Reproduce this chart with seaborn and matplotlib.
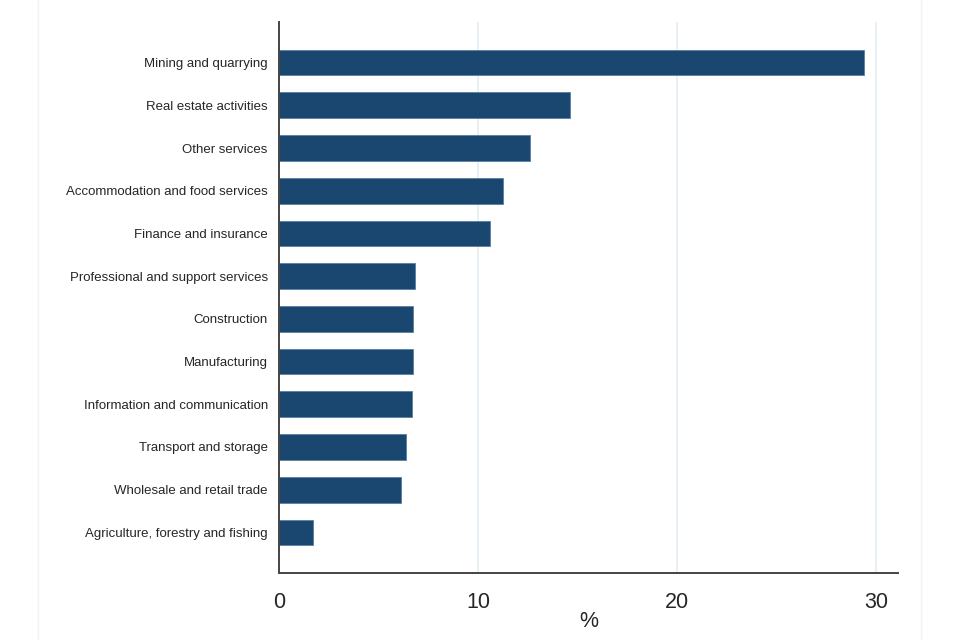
import matplotlib
matplotlib.use("Agg")
import matplotlib.pyplot as plt
import seaborn as sns
import pandas as pd
from matplotlib.lines import Line2D

# industries, top to bottom
industries = [
    "Mining and quarrying",
    "Real estate activities",
    "Other services",
    "Accommodation and food services",
    "Finance and insurance",
    "Professional and support services",
    "Construction",
    "Manufacturing",
    "Information and communication",
    "Transport and storage",
    "Wholesale and retail trade",
    "Agriculture, forestry and fishing",
]
share_pct = [29.4, 14.6, 12.6, 11.25, 10.6, 6.85, 6.75, 6.75, 6.7, 6.4, 6.15, 1.7]
x_ticks = [0, 10, 20, 30]

df = pd.DataFrame({"industry": industries, "pct": share_pct})

sns.set_style("white")
plt.rcParams["font.family"] = ["Liberation Sans", "DejaVu Sans"]

fig = plt.figure(figsize=(9.6, 6.4), dpi=100)
ax = fig.add_axes([0.2906, 0.1047, 0.6448, 0.8609])

sns.barplot(data=df, x="pct", y="industry", order=industries, color="#1a476f",
            edgecolor="#5a7fa0", linewidth=0.6, width=0.6, saturation=1, ax=ax)

ax.set_xlim(0, 31.1)
ax.set_ylim(11.95, -0.95)
ax.set_xticks(x_ticks)
ax.set_xticklabels([str(t) for t in x_ticks], fontsize=15.5)
ax.tick_params(axis="x", length=5, width=1, color="#555555", pad=9)
ax.tick_params(axis="y", length=0, pad=8, labelsize=9.5)
ax.set_xlabel("%", fontsize=15.5, labelpad=-2)
ax.set_ylabel("")

for t in x_ticks[1:]:
    ax.axvline(t, color="#e3eef3", linewidth=1.2, zorder=0)

for side in ["top", "right"]:
    ax.spines[side].set_visible(False)
for side in ["left", "bottom"]:
    ax.spines[side].set_color("#444444")
    ax.spines[side].set_linewidth(1.4)

# faint outer frame lines of the original graph region
fig.add_artist(Line2D([0.04, 0.04], [0, 1], color="#f2f2f2", linewidth=1))
fig.add_artist(Line2D([0.959, 0.959], [0, 1], color="#f2f2f2", linewidth=1))

fig.savefig("out.png", dpi=100, facecolor="white")
